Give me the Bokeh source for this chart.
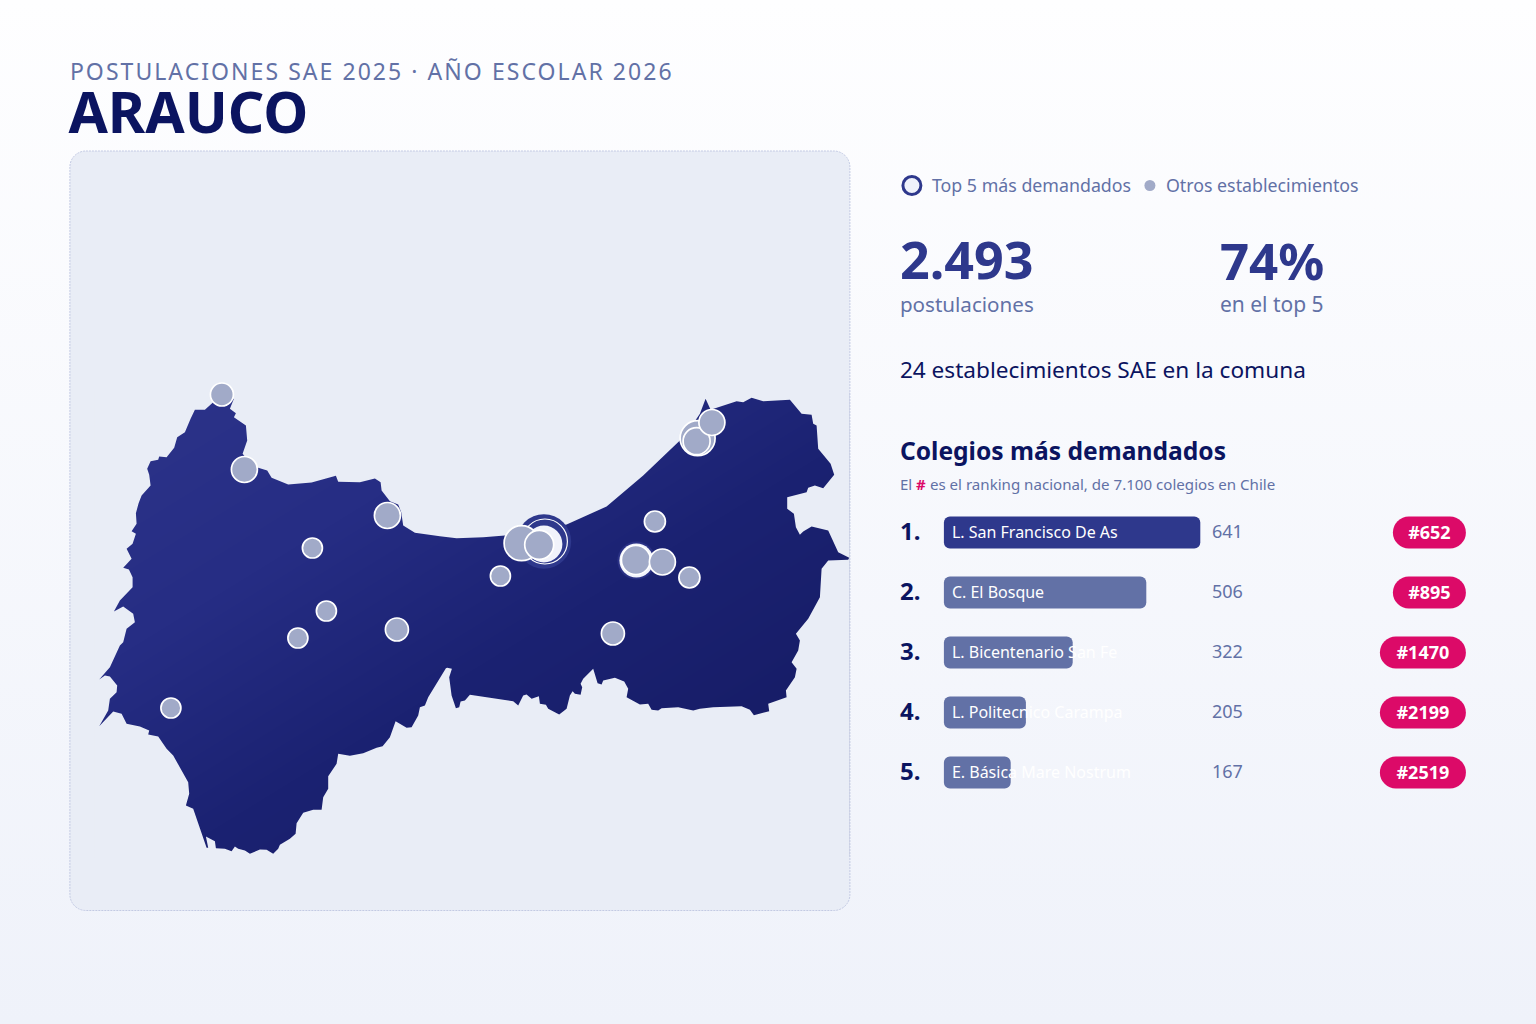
import numpy as np
from bokeh.plotting import figure
from bokeh.models import Range1d
from bokeh.core.properties import value
from bokeh.embed import file_html
from bokeh.resources import INLINE

FONT = "Noto Sans"
NAVY = "#0b1460"
BLUE = "#2e388c"
MUTED = "#6271a6"
PIN = "#a1aac8"
PINK = "#dc0a68"
PANEL = "#e9edf6"

# comuna outline
outline_x = [195, 205, 213.3, 222, 234, 230, 236, 234, 246, 247.3, 242.7, 250, 258.3, 267.3, 271.7, 288.3, 311.7, 336, 338.3, 360, 375, 380.7, 381.7, 390, 398.3, 401.3, 403.3, 415, 440, 456.7, 483.3, 505, 530, 566.7, 606.7, 643.3, 680, 690, 700, 705.7, 710.7, 736.7, 743.3, 751.7, 763.3, 790, 801.7, 811.7, 813.3, 816.7, 818.3, 830.7, 834.3, 823.3, 815, 808.3, 806.7, 787.3, 787.3, 794, 796, 800, 803.3, 811.7, 828.3, 838.3, 849.3, 848.3, 828.3, 821.7, 820, 808.3, 796, 800, 798.3, 791.7, 796.7, 795, 786, 786.7, 768.3, 769.3, 754, 750, 741.7, 713.3, 700, 693.3, 678.3, 661.7, 658.3, 651.7, 648.3, 640, 626.7, 628.3, 624.3, 615, 603.3, 601.7, 597.7, 593.3, 583.3, 580.7, 582.3, 580.7, 575, 572.7, 570, 566.7, 559.3, 548.3, 546, 540, 539, 531.7, 526.7, 523.3, 518.3, 513.3, 470, 465, 460.7, 459.3, 456, 451.7, 449.3, 452, 447.3, 446, 428.3, 425, 420, 418.3, 411.7, 406.7, 395.7, 390, 382.7, 376.7, 363.3, 350, 338.3, 336.7, 328.3, 328.3, 323.3, 321.7, 313.3, 303.3, 296.7, 295.7, 290, 280, 278.3, 273.3, 266.7, 260, 250, 245, 238.3, 235, 231.7, 225, 216, 215, 206, 208.3, 206.7, 193.3, 186, 189.3, 188.3, 173.3, 166.7, 158.3, 148.3, 149.3, 140, 126.7, 121.7, 113.3, 99.3, 108.3, 110, 116.7, 117.3, 110, 105, 99.3, 110, 120, 123.3, 126.7, 135, 133.3, 123.3, 114, 120, 132.7, 132.7, 129, 123.3, 131.7, 126.7, 132.7, 136, 131.7, 136.7, 136, 138.7, 141.7, 150.7, 149.3, 147.3, 150.7, 158.3, 159.3, 166.7, 174.3, 177.3, 185, 190.7]
outline_y = [409.3, 409.3, 401.7, 400, 398.3, 408.3, 412.7, 416.7, 425, 440, 453.3, 462, 467.3, 470, 477.3, 484, 482, 475.3, 481.3, 481.7, 478, 481.7, 490, 500.7, 504, 511.7, 525, 532.3, 535.7, 537.7, 536.7, 535, 530, 524, 506, 475, 440, 428, 413.3, 398.3, 409.3, 400.7, 401.7, 397.3, 400.7, 399.3, 413.3, 414.3, 423.3, 425, 448.3, 463.3, 474.3, 487.7, 485, 487.3, 491.7, 496.7, 508.3, 513.3, 526.7, 534.3, 531, 526, 530, 551.7, 557.3, 559.3, 560, 568.3, 596.7, 618.3, 633.3, 640, 650, 661.7, 668.3, 676.7, 690, 696.7, 703.3, 710.7, 714.7, 709.3, 705.7, 706.7, 708.3, 710, 706.7, 707.7, 710, 709.3, 703.3, 704, 696.7, 688.3, 681, 677.3, 680, 684, 682.7, 668.3, 678.3, 683.3, 686.7, 694.3, 693.3, 690.7, 695, 708.3, 714, 708.3, 704.3, 703.3, 695.7, 698.3, 694, 695, 705, 700.7, 694.3, 700, 701, 706.7, 707.7, 695, 676.7, 668.3, 667.3, 667.7, 696.7, 705, 706.7, 715, 726.7, 727.3, 720.7, 736.7, 745.7, 747.3, 752.7, 755.3, 753.3, 763.3, 775.7, 788.3, 796.7, 809.3, 809.3, 812.3, 822.7, 833.3, 838.3, 844.3, 848.3, 853.3, 849.3, 849, 853.3, 850, 848.3, 846, 850.7, 848.3, 847.7, 840.7, 836, 847.3, 847.3, 808.3, 805, 793.3, 781.7, 755, 748.3, 736, 734, 730, 726, 723.3, 713.3, 711, 725.7, 710, 698.3, 691.7, 685, 676, 675, 679, 666.7, 645, 641.7, 628.3, 621.7, 613.3, 606, 611, 600, 586.7, 576.7, 569, 567.3, 558.3, 548.3, 543.3, 533.3, 530.7, 523.3, 512.7, 502.7, 495, 485, 474.3, 468.3, 460.7, 459.3, 456, 456.7, 447.3, 436.7, 431.7, 418.3]

# schools, back to front
school_x = [222, 244.5, 387.5, 312.5, 500.5, 326.5, 298, 397, 171, 613, 655, 689.5]
school_y = [394, 469, 515, 547.5, 575.5, 610.5, 637.5, 629, 707.5, 633, 521, 577]
school_r = [11.5, 13, 13, 10, 10, 10, 10, 11.5, 10, 11.5, 10.5, 10.5]
top_x = [697.7, 696.7, 521.7, 539.3, 636, 662.5, 712]
top_y = [437.7, 440.7, 542.7, 544.3, 559.5, 561.5, 422]
top_r = [17.5, 13.5, 17.5, 14.5, 14.5, 13, 13]

ranks = ["1.", "2.", "3.", "4.", "5."]
schools = ["L. San Francisco De As", "C. El Bosque", "L. Bicentenario San Fe", "L. Politecnico Carampa", "E. Básica Mare Nostrum"]
counts = [641, 506, 322, 205, 167]
national = ["#652", "#895", "#1470", "#2199", "#2519"]
row_y = [532, 592, 652, 712, 772]
bar_colors = [BLUE, MUTED, MUTED, MUTED, MUTED]
pill_left = [1393, 1393, 1380, 1380, 1380]

# the page template of file_html has no body margin, so the figure fills the window
OFF = 0.6
p = figure(width=1536, height=1024, x_range=Range1d(OFF, 1536 + OFF), y_range=Range1d(1024, 0),
           output_backend="svg", toolbar_location=None, min_border=0, outline_line_color=None,
           background_fill_alpha=0, border_fill_alpha=0)
p.axis.visible = False
p.grid.visible = False

# bars have their own scale, 0.4 px for each application
p.extra_x_ranges["bars"] = Range1d((OFF - 944) / 0.4, (1536 + OFF - 944) / 0.4)


def txt(x, y, s, size, color, style="normal", align="left"):
    # y is the baseline; the svg text lands about 0.41 of the size lower than asked
    p.text([x], [y - 0.41 * size], text=[s], text_font=value(FONT), text_font_size=f"{size}px", text_color=color,
           text_font_style=style, text_align=align, text_baseline="alphabetic")


# panel
p.quad(left=[70], right=[850], top=[150.5], bottom=[910], fill_color=PANEL, line_color=None, border_radius=16)

# map: diagonal gradient under a panel coloured mask with the comuna as a hole
x0, x1, y0, y1 = 96, 850, 392, 856
gx, gy = np.meshgrid(np.arange(x0, x1) + 0.5, np.arange(y0, y1) + 0.5)
t = ((gx - x0) / (x1 - x0) + (gy - y0) / (y1 - y0)) / 2
stops = [0, 0.3, 0.55, 1]
rgb = [np.interp(t, stops, c) for c in ([45, 38, 27, 20], [52, 45, 34, 25], [138, 132, 114, 95])]
img = np.zeros(t.shape, dtype=np.uint32)
view = img.view(dtype=np.uint8).reshape(t.shape + (4,))
view[..., 0], view[..., 1], view[..., 2], view[..., 3] = rgb[0], rgb[1], rgb[2], 255
p.image_rgba(image=[img], x=x0, y=y0, dw=x1 - x0, dh=y1 - y0)
p.multi_polygons(xs=[[[[x0 - 1, x1, x1, x0 - 1], outline_x]]],
                 ys=[[[[y0 - 1, y0 - 1, y1 + 1, y1 + 1], outline_y]]],
                 fill_color=PANEL, line_color=None)
p.quad(left=[70], right=[850], top=[150.5], bottom=[910], fill_color=None, line_color="#c3cae3",
       line_width=1, line_dash="2 1", border_radius=16)

# halos of the top schools
p.circle([544], [541], radius=27.3, fill_color=BLUE, line_color=None)
p.circle([545], [541], radius=22.5, fill_color=None, line_color="white", line_width=1.2)
p.circle([544], [543.5], radius=18.5, fill_color="#f1f3fb", line_color=None)
p.circle([636.5], [560], radius=19, fill_color="#2a3185", line_color=None)
p.circle([636.5], [560], radius=17, fill_color="#f1f3fb", line_color=None)

p.circle(school_x, school_y, radius=school_r, fill_color=PIN, line_color="white", line_width=1.7)
p.circle(top_x, top_y, radius=top_r, fill_color=PIN, line_color="white", line_width=1.7)

# header
txt(70, 80, "POSTULACIONES SAE 2025 · AÑO ESCOLAR 2026", 23, MUTED)
txt(68.5, 133.5, "ARAUCO", 57, NAVY, "bold")

# legend
p.circle([912], [185], radius=9, fill_color="#eff2fb", line_color=BLUE, line_width=3)
txt(932, 192, "Top 5 más demandados", 17.8, MUTED)
p.circle([1150], [185], radius=5.5, fill_color=PIN, line_color=None)
txt(1166, 192, "Otros establecimientos", 17.8, MUTED)

# numbers
txt(900, 281.5, "2.493", 52, BLUE, "bold")
txt(900, 312, "postulaciones", 20.6, MUTED)
txt(1220, 280, "74%", 51, BLUE, "bold")
txt(1220, 312, "en el top 5", 21, MUTED)
txt(900, 378, "24 establecimientos SAE en la comuna", 22.6, NAVY)
txt(900, 460, "Colegios más demandados", 24.6, NAVY, "bold")
txt(900, 490, "El", 15, MUTED)
txt(916, 490, "#", 15, PINK, "bold")
txt(930, 490, "es el ranking nacional, de 7.100 colegios en Chile", 15.1, MUTED)

# ranking rows
p.hbar(y=row_y, left=0, right=counts, height=32, x_range_name="bars", fill_color=bar_colors,
       line_color=None, border_radius=6)
p.quad(left=pill_left, right=[1466] * 5, top=[y - 16 for y in row_y], bottom=[y + 16 for y in row_y],
       fill_color=PINK, line_color=None, border_radius=16)
for i, y in enumerate(row_y):
    txt(900, y + 9, ranks[i], 24, NAVY, "bold")
    txt(952, y + 6, schools[i], 16, "white")
    txt(1212, y + 6, str(counts[i]), 18, MUTED)
    txt((pill_left[i] + 1466) / 2, y + 6.5, national[i], 18, "white", "bold", "center")

html = file_html(p, INLINE)
# page gradient and the tracking of the header line
html = html.replace("</head>", "<style>html{height:100%;background:linear-gradient(#feFeff,#eff2fa)}</style></head>", 1)
html = html.replace("</body>", """<script>
function walk(r){r.querySelectorAll('*').forEach(function(e){
if(e.shadowRoot)walk(e.shadowRoot);
if(e.tagName=='text'&&e.textContent.indexOf('POSTULACIONES')==0)e.style.letterSpacing='2.05px';});}
[300,1000,2000].forEach(function(t){setTimeout(function(){walk(document)},t)});
</script></body>""", 1)
open("out.html", "w").write(html)
